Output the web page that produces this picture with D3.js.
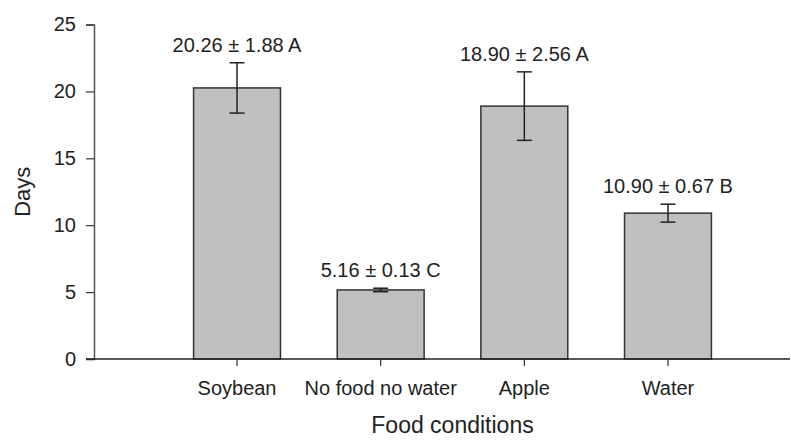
<!DOCTYPE html>
<html>
<head>
<meta charset="utf-8">
<script src="https://cdn.jsdelivr.net/npm/d3@7"></script>
<style>
  body { margin: 0; background: #fff; }
  text { font-family: "Liberation Sans", Arial, sans-serif; fill: #222; }
</style>
</head>
<body>
<svg id="chart" width="791" height="440"></svg>
<script>
const categories = ["Soybean", "No food no water", "Apple", "Water"];
const means = [20.26, 5.16, 18.90, 10.90];
const errors = [1.88, 0.13, 2.56, 0.67];
const groups = ["A", "C", "A", "B"];
const yTicks = [0, 5, 10, 15, 20, 25];

const svg = d3.select("#chart");

const x0 = 94, x1 = 790;
const yScale = d3.scaleLinear().domain([0, 25]).range([359, 24.5]);
const xScale = d3.scaleBand()
    .domain(categories)
    .range([165.2, 739.8])
    .paddingInner(0.395)
    .paddingOuter(0.1975);

const data = categories.map((c, i) => ({ c, m: means[i], e: errors[i], g: groups[i] }));

// bars
svg.append("g").selectAll("rect")
    .data(data)
    .enter()
    .append("rect")
    .attr("x", d => xScale(d.c))
    .attr("y", d => yScale(d.m))
    .attr("width", xScale.bandwidth())
    .attr("height", d => yScale(0) - yScale(d.m))
    .attr("fill", "#c0c0c0")
    .attr("stroke", "#333")
    .attr("stroke-width", 1.5);

// error bars
const eb = svg.append("g").attr("stroke", "#222").attr("stroke-width", 1.5);
const cx = d => xScale(d.c) + xScale.bandwidth() / 2;
const cap = 7.5;
data.forEach(d => {
    eb.append("line")
        .attr("x1", cx(d)).attr("x2", cx(d))
        .attr("y1", yScale(d.m - d.e)).attr("y2", yScale(d.m + d.e));
    [d.m - d.e, d.m + d.e].forEach(v => {
        eb.append("line")
            .attr("x1", cx(d) - cap).attr("x2", cx(d) + cap)
            .attr("y1", yScale(v)).attr("y2", yScale(v));
    });
});

// value labels
svg.append("g").selectAll("text")
    .data(data)
    .enter()
    .append("text")
    .attr("x", cx)
    .attr("y", d => yScale(d.m + d.e) - 11)
    .attr("text-anchor", "middle")
    .style("font-size", "20px")
    .text(d => `${d.m.toFixed(2)} ± ${d.e.toFixed(2)} ${d.g}`);

// y axis
const yAxis = svg.append("g")
    .attr("transform", `translate(${x0},0)`)
    .call(d3.axisLeft(yScale).tickValues(yTicks).tickSize(8).tickPadding(10));
yAxis.select(".domain").attr("stroke", "#555").attr("stroke-width", 1.5);
yAxis.selectAll(".tick line").attr("stroke", "#333").attr("stroke-width", 1.2);
yAxis.selectAll(".tick text").style("font-size", "20px").style("font-family", "Liberation Sans, Arial, sans-serif").attr("fill", "#222");

// x axis
svg.append("line")
    .attr("x1", x0 - 8).attr("x2", x1)
    .attr("y1", yScale(0)).attr("y2", yScale(0))
    .attr("stroke", "#222").attr("stroke-width", 1.5);
const xAxis = svg.append("g")
    .attr("transform", `translate(0,${yScale(0)})`)
    .call(d3.axisBottom(xScale).tickSize(7).tickPadding(15).tickSizeOuter(0));
xAxis.select(".domain").remove();
xAxis.selectAll(".tick line").attr("stroke", "#333").attr("stroke-width", 1.2);
xAxis.selectAll(".tick text").style("font-size", "20px").style("font-family", "Liberation Sans, Arial, sans-serif").attr("fill", "#222");

// axis titles
svg.append("text")
    .attr("transform", `translate(30,${(yScale(0) + yScale(25)) / 2}) rotate(-90)`)
    .attr("text-anchor", "middle")
    .style("font-size", "22px")
    .text("Days");

svg.append("text")
    .attr("x", (cx(data[0]) + cx(data[3])) / 2)
    .attr("y", 433)
    .attr("text-anchor", "middle")
    .style("font-size", "23px")
    .text("Food conditions");
</script>
</body>
</html>
